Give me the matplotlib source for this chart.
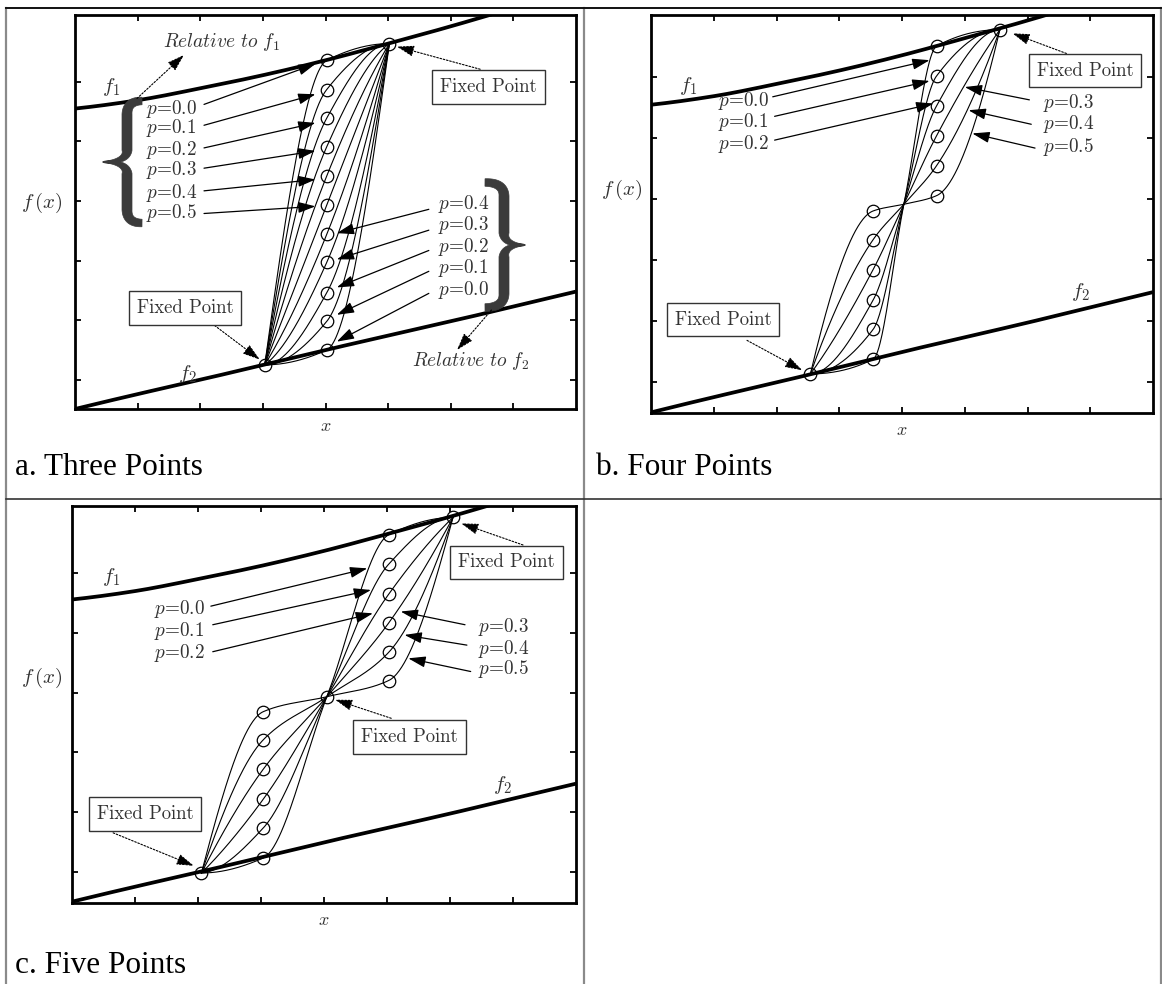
import numpy as np
import matplotlib
matplotlib.use("Agg")
import matplotlib.pyplot as plt
from matplotlib.lines import Line2D
from matplotlib.patches import Polygon

plt.rcParams["mathtext.fontset"] = "cm"
plt.rcParams["axes.unicode_minus"] = False

# ---- boundary functions f1 (upper) and f2 (lower) ----
F1_X = [0, 1, 2, 3, 4, 5, 6, 7]
F1_Y = [5.55, 5.69, 5.89, 6.11, 6.36, 6.64, 6.93, 7.24]
F2_X = [0, 1, 2, 3, 4, 5, 6, 7, 8]
F2_Y = [0.51, 0.76, 1.00, 1.25, 1.50, 1.74, 1.98, 2.23, 2.48]

P_LEVELS = ["0.0", "0.1", "0.2", "0.3", "0.4", "0.5"]

# ---- a. three points ----
A_FIXED_X = [3.03, 5.02]
A_FIXED_Y = [1.25, 6.64]
A_MID_X = 4.02
A_MID_Y_F1 = [6.36, 5.87, 5.39, 4.91, 4.42, 3.93]   # p = 0.0 .. 0.5 measured from f1
A_MID_Y_F2 = [1.50, 1.98, 2.46, 2.97, 3.44]         # p = 0.0 .. 0.4 measured from f2

# ---- b. four points ----
B_FIXED_X = [2.54, 4.03, 5.56]
B_FIXED_Y = [1.14, 3.92, 6.78]
B_LOW_X = 3.54
B_LOW_Y = [1.38, 1.87, 2.35, 2.85, 3.34, 3.81]
B_UP_X = 4.55
B_UP_Y = [6.51, 6.02, 5.53, 5.04, 4.55, 4.06]

# ---- c. five points ----
C_FIXED_X = [2.06, 4.05, 6.05]
C_FIXED_Y = [0.99, 3.93, 6.92]
C_LOW_X = 3.04
C_LOW_Y = [1.24, 1.74, 2.22, 2.72, 3.21, 3.68]
C_UP_X = 5.03
C_UP_Y = [6.63, 6.14, 5.64, 5.16, 4.67, 4.20]

CAPTIONS = ["a. Three Points", "b. Four Points", "c. Five Points"]

TXT = "#333333"
W_PX, H_PX = 1162, 984


def pchip(xk, yk, xs):
    """Monotone piecewise cubic Hermite interpolation."""
    xk = np.asarray(xk, float)
    yk = np.asarray(yk, float)
    xs = np.asarray(xs, float)
    h = np.diff(xk)
    delta = np.diff(yk) / h
    n = len(xk)
    d = np.zeros(n)
    for k in range(1, n - 1):
        if delta[k - 1] * delta[k] > 0:
            w1 = 2 * h[k] + h[k - 1]
            w2 = h[k] + 2 * h[k - 1]
            d[k] = (w1 + w2) / (w1 / delta[k - 1] + w2 / delta[k])

    def end(h0, h1, d0, d1):
        dd = ((2 * h0 + h1) * d0 - h0 * d1) / (h0 + h1)
        if np.sign(dd) != np.sign(d0):
            dd = 0.0
        elif np.sign(d0) != np.sign(d1) and abs(dd) > abs(3 * d0):
            dd = 3 * d0
        return dd

    if n > 2:
        d[0] = end(h[0], h[1], delta[0], delta[1])
        d[-1] = end(h[-1], h[-2], delta[-1], delta[-2])
    else:
        d[:] = delta[0]
    idx = np.clip(np.searchsorted(xk, xs) - 1, 0, n - 2)
    t = (xs - xk[idx]) / h[idx]
    hh = h[idx]
    h00 = 2 * t**3 - 3 * t**2 + 1
    h10 = t**3 - 2 * t**2 + t
    h01 = -2 * t**3 + 3 * t**2
    h11 = t**3 - t**2
    return h00 * yk[idx] + h10 * hh * d[idx] + h01 * yk[idx + 1] + h11 * hh * d[idx + 1]


def fx(px):
    return px / W_PX


def fy(py):
    return 1 - py / H_PX


fig = plt.figure(figsize=(W_PX / 100, H_PX / 100), dpi=100)

# ---- table grid ----
grid_v = "#8a8a8a"
for x in (6, 584, 1161):
    fig.add_artist(Line2D([fx(x), fx(x)], [fy(8), fy(984)], transform=fig.transFigure,
                          color=grid_v, lw=1.6))
fig.add_artist(Line2D([fx(6), fx(1161)], [fy(8), fy(8)], transform=fig.transFigure,
                      color="#111111", lw=1.4))
fig.add_artist(Line2D([fx(6), fx(1161)], [fy(499), fy(499)], transform=fig.transFigure,
                      color="#333333", lw=1.2))


def make_axes(left, right, top, bottom, ylim, ylab_frac, ylab_gap):
    ax = fig.add_axes([fx(left), fy(bottom), (right - left) / W_PX, (bottom - top) / H_PX])
    ax.set_xlim(0, 8)
    ax.set_ylim(*ylim)
    ax.set_xticks(range(1, 8))
    ax.set_yticks(range(1, 7))
    ax.tick_params(direction="in", length=4.5, width=1.3, top=True, right=True,
                   labelbottom=False, labelleft=False)
    for s in ax.spines.values():
        s.set_linewidth(2.0)
    ax.set_xlabel("$x$", fontsize=13, labelpad=6, color=TXT)
    ax.text(-ylab_gap / (right - left), ylab_frac, r"$f\,(x)$", transform=ax.transAxes,
            ha="right", va="center", fontsize=15, color=TXT)
    # boundaries
    xs1 = np.linspace(F1_X[0], F1_X[-1], 400)
    ax.plot(xs1, pchip(F1_X, F1_Y, xs1), color="k", lw=2.7, solid_capstyle="butt")
    xs2 = np.linspace(F2_X[0], F2_X[-1], 400)
    ax.plot(xs2, pchip(F2_X, F2_Y, xs2), color="k", lw=2.7, solid_capstyle="butt")
    return ax


def curve(ax, nx, ny):
    xs = np.linspace(nx[0], nx[-1], 300)
    ax.plot(xs, pchip(nx, ny, xs), color="k", lw=0.8)


def circles(ax, x, y):
    ax.plot(x, y, "o", mfc="none", mec="k", ms=9, mew=0.9, zorder=5)


def arrow(ax, start, tip, dotted=False):
    ax.annotate("", xy=tip, xytext=start,
                arrowprops=dict(arrowstyle="-|>,head_length=0.75,head_width=0.24",
                                color="k", lw=0.8 if dotted else 0.9,
                                linestyle=(0, (1.5, 1.5)) if dotted else "-",
                                shrinkA=0, shrinkB=0, mutation_scale=14), zorder=6)


def plabel(ax, x, y, lev, ha="left"):
    ax.text(x, y, r"$p$=" + lev, fontsize=13.8, family="cmr10", color=TXT,
            ha=ha, va="center", zorder=7)


def fixed_box(ax, x, y):
    ax.text(x, y, "Fixed Point", fontsize=13.5, family="cmr10", color=TXT,
            ha="center", va="center", zorder=8,
            bbox=dict(boxstyle="square,pad=0.42", fc="white", ec="#333333", lw=1.0))


def flabel(ax, x, y, i):
    ax.text(x, y, r"$f_{%d}$" % i, fontsize=15, color=TXT, ha="center", va="center")


def brace(ax, tip_px, height, width, stem, facing, color="#3b3b3b"):
    """Filled curly brace; tip_px in figure pixels (from top-left)."""
    h = height / 2
    r1 = 0.11 * height
    r2 = 0.10 * height
    t = np.linspace(0, 1, 40)[:, None]
    A = (1 - t) ** 2 * [width, h] + 2 * (1 - t) * t * [stem, h] + t ** 2 * [stem, h - r1]
    B = np.column_stack([np.full(20, stem), np.linspace(h - r1, r2, 20)])
    C = (1 - t) ** 2 * [stem, r2] + 2 * (1 - t) * t * [stem, 0] + t ** 2 * [0, 0]
    upper = np.vstack([A, B[1:], C[1:]])
    w = np.concatenate([np.linspace(7.5, 10, 40), np.full(19, 10), np.linspace(10, 1.2, 39)])
    lower = (upper[::-1] * [1, -1])[1:]
    pts = np.vstack([upper, lower])
    widths = np.concatenate([w, w[::-1][1:]])
    dvec = np.gradient(pts, axis=0)
    dvec /= np.linalg.norm(dvec, axis=1)[:, None]
    nrm = np.column_stack([-dvec[:, 1], dvec[:, 0]])
    left = pts + nrm * widths[:, None] / 2
    right = pts - nrm * widths[:, None] / 2
    poly = np.vstack([left, right[::-1]])
    if facing == "right":
        poly[:, 0] *= -1
    disp = poly + [tip_px[0], H_PX - tip_px[1]]
    data = ax.transData.inverted().transform(disp)
    ax.add_patch(Polygon(data, closed=True, fc=color, ec=color, lw=0.5, zorder=4))


# ================= a. Three Points =================
axa = make_axes(75, 576, 15, 409, (0.51, 7.12), 0.523, 13)
mids = A_MID_Y_F1 + A_MID_Y_F2
for yk in mids:
    curve(axa, [A_FIXED_X[0], A_MID_X, A_FIXED_X[1]], [A_FIXED_Y[0], yk, A_FIXED_Y[1]])
circles(axa, [A_MID_X] * len(mids), mids)
circles(axa, A_FIXED_X, A_FIXED_Y)

left_text_y = [5.55, 5.22, 4.85, 4.52, 4.14, 3.79]
left_start_y = [5.62, 5.27, 4.89, 4.55, 4.17, 3.79]
left_tip_y = [6.30, 5.79, 5.31, 4.84, 4.36, 3.91]
for lev, ty, sy, py in zip(P_LEVELS, left_text_y, left_start_y, left_tip_y):
    plabel(axa, 1.14, ty, lev)
    arrow(axa, (2.06, sy), (3.84, py))

right_text_y = [2.51, 2.87, 3.23, 3.59, 3.95]
right_start_y = [2.45, 2.82, 3.17, 3.51, 3.86]
right_tip_y = [1.64, 2.09, 2.55, 3.02, 3.46]
for lev, ty, sy, py in zip(P_LEVELS[:5], right_text_y, right_start_y, right_tip_y):
    plabel(axa, 5.80, ty, lev)
    arrow(axa, (5.65, sy), (4.18, py))

flabel(axa, 0.57, 5.92, 1)
flabel(axa, 1.80, 1.10, 2)
axa.text(1.41, 6.67, r"$\mathit{Relative\ to}\ f_{1}$", fontsize=14, color=TXT,
         ha="left", va="center")
axa.text(5.38, 1.31, r"$\mathit{Relative\ to}\ f_{2}$", fontsize=14, color=TXT,
         ha="left", va="center")
arrow(axa, (0.99, 5.72), (1.74, 6.45), dotted=True)
arrow(axa, (6.65, 2.17), (6.10, 1.50), dotted=True)
fixed_box(axa, 6.60, 5.91)
arrow(axa, (6.47, 6.21), (5.14, 6.59), dotted=True)
fixed_box(axa, 1.76, 2.21)
arrow(axa, (2.23, 1.91), (2.95, 1.34), dotted=True)
brace(axa, (103, 162), 122, 39, 24, "left")
brace(axa, (525, 245), 125, 40, 21, "right")


# ================= b/c. Four and Five Points =================
def multi_panel(ax, fixed_x, fixed_y, low_x, low_y, up_x, up_y, mid_circle):
    for yl, yu in zip(low_y, up_y):
        nx = [fixed_x[0], low_x, fixed_x[1], up_x, fixed_x[2]]
        ny = [fixed_y[0], yl, fixed_y[1], yu, fixed_y[2]]
        curve(ax, nx, ny)
    circles(ax, [low_x] * len(low_y), low_y)
    circles(ax, [up_x] * len(up_y), up_y)
    if mid_circle:
        circles(ax, fixed_x, fixed_y)
    else:
        circles(ax, [fixed_x[0], fixed_x[2]], [fixed_y[0], fixed_y[2]])


axb = make_axes(651, 1153, 15, 413, (0.50, 7.02), 0.56, 9)
multi_panel(axb, B_FIXED_X, B_FIXED_Y, B_LOW_X, B_LOW_Y, B_UP_X, B_UP_Y, False)
for lev, ty, s, p in zip(P_LEVELS[:3], [5.61, 5.26, 4.91],
                         [(1.94, 5.68), (1.97, 5.36), (1.97, 4.97)],
                         [(4.44, 6.28), (4.44, 5.94), (4.50, 5.57)]):
    plabel(axb, 1.06, ty, lev)
    arrow(axb, s, p)
for lev, ty, s, p in zip(P_LEVELS[3:], [5.58, 5.23, 4.86],
                         [(6.03, 5.63), (6.06, 5.23), (6.12, 4.84)],
                         [(5.00, 5.84), (5.06, 5.46), (5.12, 5.08)]):
    plabel(axb, 6.24, ty, lev)
    arrow(axb, s, p)
flabel(axb, 0.59, 5.86, 1)
flabel(axb, 6.85, 2.48, 2)
fixed_box(axb, 6.92, 6.11)
arrow(axb, (6.62, 6.39), (5.76, 6.72), dotted=True)
fixed_box(axb, 1.15, 2.03)
arrow(axb, (1.53, 1.69), (2.41, 1.20), dotted=True)

axc = make_axes(71.5, 576, 506, 903, (0.49, 7.11), 0.567, 9)
multi_panel(axc, C_FIXED_X, C_FIXED_Y, C_LOW_X, C_LOW_Y, C_UP_X, C_UP_Y, True)
for lev, ty, s, p in zip(P_LEVELS[:3], [5.39, 5.02, 4.66],
                         [(2.21, 5.44), (2.24, 5.13), (2.24, 4.68)],
                         [(4.69, 6.07), (4.75, 5.71), (4.78, 5.32)]):
    plabel(axc, 1.31, ty, lev)
    arrow(axc, s, p)
for lev, ty, s, p in zip(P_LEVELS[3:], [5.09, 4.72, 4.39],
                         [(6.24, 5.13), (6.27, 4.79), (6.33, 4.35)],
                         [(5.22, 5.35), (5.28, 4.96), (5.34, 4.57)]):
    plabel(axc, 6.45, ty, lev)
    arrow(axc, s, p)
flabel(axc, 0.63, 5.93, 1)
flabel(axc, 6.84, 2.45, 2)
fixed_box(axc, 6.90, 6.17)
arrow(axc, (7.16, 6.46), (6.18, 6.82), dotted=True)
fixed_box(axc, 5.36, 3.26)
arrow(axc, (5.07, 3.57), (4.18, 3.88), dotted=True)
fixed_box(axc, 1.17, 1.97)
arrow(axc, (0.66, 1.66), (1.94, 1.11), dotted=True)

# ---- captions ----
for (cx, cy), cap in zip([(15, 475), (596, 475), (15, 973)], CAPTIONS):
    fig.text(fx(cx), fy(cy), cap, fontsize=22.5, family="Liberation Serif",
             color="black", ha="left", va="baseline")

fig.savefig("out.png", dpi=100)
